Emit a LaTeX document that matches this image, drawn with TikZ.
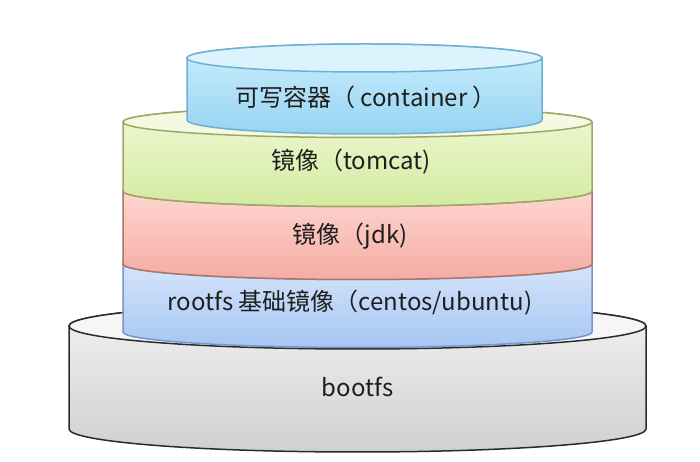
\documentclass[tikz,border=0pt]{standalone}
\usepackage{fontspec}
\setmainfont{Noto Sans CJK SC}
\usepackage{tikz}
\definecolor{boxblue}{RGB}{204,238,252}
\definecolor{boxbluedark}{RGB}{150,212,243}
\definecolor{boxblueedge}{RGB}{111,176,208}
\definecolor{boxgreen}{RGB}{240,248,214}
\definecolor{boxgreendark}{RGB}{211,235,160}
\definecolor{boxgreenedge}{RGB}{160,165,105}
\definecolor{boxred}{RGB}{255,222,216}
\definecolor{boxreddark}{RGB}{245,172,163}
\definecolor{boxrededge}{RGB}{170,118,108}
\definecolor{rootblue}{RGB}{222,234,252}
\definecolor{rootbluedark}{RGB}{166,198,244}
\definecolor{rootblueedge}{RGB}{120,150,196}
\definecolor{bootgray}{RGB}{242,242,242}
\definecolor{bootgraydark}{RGB}{208,208,208}
\definecolor{bootgrayedge}{RGB}{42,42,42}
\definecolor{labeltext}{RGB}{30,30,30}

% one layer: centre x, top y, bottom y, x radius, y radius, light, dark, edge
\newcommand{\disk}[8]{%
  \draw[#8, line width=1.5pt, top color=#6, bottom color=#7]
    (#1-#4,#2) -- (#1-#4,#3)
    arc[start angle=180, end angle=360, x radius=#4, y radius=#5]
    -- (#1+#4,#2)
    arc[start angle=0, end angle=180, x radius=#4, y radius=#5] -- cycle;
  \draw[#8, line width=1.5pt, fill=#6!70!white] (#1,#2) ellipse[x radius=#4, y radius=#5];
}

\begin{document}
\begin{tikzpicture}[x=1pt, y=1pt,
  layertext/.style={text=labeltext, font=\fontsize{24}{28}\selectfont, inner sep=0pt}]
  \useasboundingbox (0,0) rectangle (700,462);

  % bootfs
  \disk{357.5}{136}{33}{288.5}{23}{bootgray}{bootgraydark}{bootgrayedge}

  % rootfs
  \disk{357.5}{198}{130}{234.5}{15.5}{rootblue}{rootbluedark}{rootblueedge}

  % jdk
  \disk{357.5}{271}{198}{234.5}{15.5}{boxred}{boxreddark}{boxrededge}

  % tomcat
  \disk{357.5}{340}{271}{234.5}{15.5}{boxgreen}{boxgreendark}{boxgreenedge}

  % container
  \disk{364.5}{404}{342}{177.5}{14}{boxblue}{boxbluedark}{boxblueedge}

  % labels
  \node[layertext] (container) at (366,365) {可写容器（ container ）};
  \node[layertext] (tomcat) at (351,300) {镜像（tomcat)};
  \node[layertext] (jdk) at (350,226) {镜像（jdk)};
  \node[layertext] (rootfs) at (350,159) {rootfs 基础镜像（centos/ubuntu)};
  \node[layertext] (bootfs) at (357.5,75) {bootfs};
\end{tikzpicture}
\end{document}
